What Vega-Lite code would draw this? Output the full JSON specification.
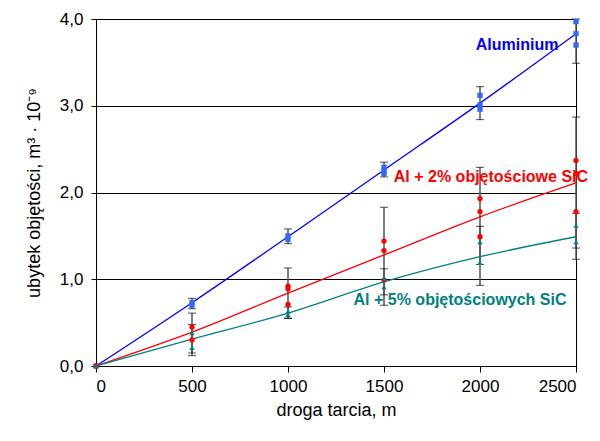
{
  "$schema": "https://vega.github.io/schema/vega-lite/v6.json",
  "width": 480,
  "height": 347,
  "autosize": "none",
  "padding": {"left": 96, "top": 19, "right": 24, "bottom": 75},
  "background": "white",
  "config": {
    "font": "Liberation Sans",
    "view": {"stroke": "black", "strokeWidth": 1}
  },
  "datasets": {
    "pts": [
      {"s": "Al", "x": 0, "y": 0}, {"s": "Al", "x": 500, "y": 0.73}, {"s": "Al", "x": 500, "y": 0.70},
      {"s": "Al", "x": 1000, "y": 1.50}, {"s": "Al", "x": 1000, "y": 1.46},
      {"s": "Al", "x": 1500, "y": 2.29}, {"s": "Al", "x": 1500, "y": 2.25}, {"s": "Al", "x": 1500, "y": 2.22},
      {"s": "Al", "x": 2000, "y": 3.12}, {"s": "Al", "x": 2000, "y": 3.01}, {"s": "Al", "x": 2000, "y": 2.96},
      {"s": "Al", "x": 2500, "y": 3.97}, {"s": "Al", "x": 2500, "y": 3.83}, {"s": "Al", "x": 2500, "y": 3.70},
      {"s": "Al2", "x": 0, "y": 0}, {"s": "Al2", "x": 500, "y": 0.45}, {"s": "Al2", "x": 500, "y": 0.30},
      {"s": "Al2", "x": 1000, "y": 0.92}, {"s": "Al2", "x": 1000, "y": 0.89}, {"s": "Al2", "x": 1000, "y": 0.71},
      {"s": "Al2", "x": 1500, "y": 1.44}, {"s": "Al2", "x": 1500, "y": 1.33}, {"s": "Al2", "x": 1500, "y": 0.99},
      {"s": "Al2", "x": 2000, "y": 1.93}, {"s": "Al2", "x": 2000, "y": 1.78}, {"s": "Al2", "x": 2000, "y": 1.49},
      {"s": "Al2", "x": 2500, "y": 2.37}, {"s": "Al2", "x": 2500, "y": 2.22}, {"s": "Al2", "x": 2500, "y": 1.78},
      {"s": "Al5", "x": 0, "y": 0}, {"s": "Al5", "x": 500, "y": 0.38}, {"s": "Al5", "x": 500, "y": 0.21},
      {"s": "Al5", "x": 1000, "y": 0.63}, {"s": "Al5", "x": 1000, "y": 0.59},
      {"s": "Al5", "x": 1500, "y": 1.01}, {"s": "Al5", "x": 1500, "y": 0.91},
      {"s": "Al5", "x": 2000, "y": 1.43}, {"s": "Al5", "x": 2000, "y": 1.19},
      {"s": "Al5", "x": 2500, "y": 1.62}, {"s": "Al5", "x": 2500, "y": 1.43}
    ],
    "fit": [
      {"s": "Al", "x": 0, "y": 0}, {"s": "Al", "x": 500, "y": 0.73}, {"s": "Al", "x": 1000, "y": 1.49},
      {"s": "Al", "x": 1500, "y": 2.26}, {"s": "Al", "x": 2000, "y": 3.03}, {"s": "Al", "x": 2500, "y": 3.83},
      {"s": "Al2", "x": 0, "y": 0}, {"s": "Al2", "x": 500, "y": 0.39}, {"s": "Al2", "x": 1000, "y": 0.84},
      {"s": "Al2", "x": 1500, "y": 1.28}, {"s": "Al2", "x": 2000, "y": 1.72}, {"s": "Al2", "x": 2500, "y": 2.11},
      {"s": "Al5", "x": 0, "y": 0}, {"s": "Al5", "x": 500, "y": 0.31}, {"s": "Al5", "x": 1000, "y": 0.61},
      {"s": "Al5", "x": 1500, "y": 0.97}, {"s": "Al5", "x": 2000, "y": 1.26}, {"s": "Al5", "x": 2500, "y": 1.49}
    ],
    "err": [
      {"s": "Al", "x": 500, "lo": 0.66, "hi": 0.78}, {"s": "Al", "x": 1000, "lo": 1.41, "hi": 1.58},
      {"s": "Al", "x": 1500, "lo": 2.18, "hi": 2.35}, {"s": "Al", "x": 2000, "lo": 2.84, "hi": 3.22},
      {"s": "Al", "x": 2500, "lo": 3.49, "hi": 4.0},
      {"s": "Al2", "x": 500, "lo": 0.15, "hi": 0.61}, {"s": "Al2", "x": 1000, "lo": 0.55, "hi": 1.13},
      {"s": "Al2", "x": 1500, "lo": 0.70, "hi": 1.83}, {"s": "Al2", "x": 2000, "lo": 1.17, "hi": 2.29},
      {"s": "Al2", "x": 2500, "lo": 1.36, "hi": 2.87},
      {"s": "Al5", "x": 500, "lo": 0.12, "hi": 0.48}, {"s": "Al5", "x": 1000, "lo": 0.55, "hi": 0.68},
      {"s": "Al5", "x": 1500, "lo": 0.82, "hi": 1.12}, {"s": "Al5", "x": 2000, "lo": 0.93, "hi": 1.61},
      {"s": "Al5", "x": 2500, "lo": 1.23, "hi": 1.76}
    ],
    "labels": [
      {"s": "Al", "x": 2193, "y": 3.70, "t": "Aluminium"},
      {"s": "Al2", "x": 2057, "y": 2.18, "t": "Al + 2% objętościowe SiC"},
      {"s": "Al5", "x": 1896, "y": 0.76, "t": "Al + 5% objętościowych SiC"}
    ]
  },
  "encoding": {
    "x": {"field": "x", "type": "quantitative", "scale": {"domain": [0, 2500], "nice": false},
      "axis": {"values": [0, 500, 1000, 1500, 2000, 2500], "format": "d", "grid": false, "tickSize": 6, "labelPadding": 6,
        "labelFont": "Liberation Sans", "labelFontSize": 17, "labelColor": "black", "domainColor": "black", "tickColor": "black",
        "title": "droga tarcia, m", "titleFont": "Liberation Sans", "titleFontSize": 18, "titleFontWeight": "normal", "titleColor": "black", "titlePadding": 7}},
    "y": {"field": "y", "type": "quantitative", "scale": {"domain": [0, 4], "nice": false},
      "axis": {"values": [0, 1, 2, 3, 4], "labelExpr": "replace(format(datum.value, '.1f'), '.', ',')", "grid": true, "gridColor": "black", "gridOpacity": 1, "gridWidth": 1, "tickSize": 5, "labelPadding": 8,
        "labelFont": "Liberation Sans", "labelFontSize": 17, "labelColor": "black", "domainColor": "black", "tickColor": "black",
        "title": "ubytek objętości, m³ · 10⁻⁹", "titleFont": "Liberation Sans", "titleFontSize": 18, "titleFontWeight": "normal", "titleColor": "black", "titlePadding": 16}}
  },
  "layer": [
    {
      "data": {"name": "err"},
      "mark": {"type": "rule", "color": "#555555", "strokeWidth": 1.5},
      "encoding": {"y": {"field": "lo", "type": "quantitative"}, "y2": {"field": "hi"}}
    },
    {
      "data": {"name": "err"},
      "mark": {"type": "tick", "orient": "horizontal", "color": "black", "size": 8, "thickness": 1},
      "encoding": {"y": {"field": "lo", "type": "quantitative"}}
    },
    {
      "data": {"name": "err"},
      "mark": {"type": "tick", "orient": "horizontal", "color": "black", "size": 8, "thickness": 1},
      "encoding": {"y": {"field": "hi", "type": "quantitative"}}
    },
    {
      "data": {"name": "fit"},
      "mark": {"type": "line", "strokeWidth": 1.3, "interpolate": "monotone"},
      "encoding": {"color": {"field": "s", "type": "nominal", "scale": {"domain": ["Al", "Al2", "Al5"], "range": ["#0000ff", "#ff0000", "#008080"]}, "legend": null}}
    },
    {
      "data": {"name": "pts"},
      "mark": {"type": "point", "filled": true, "opacity": 1},
      "encoding": {
        "color": {"field": "s", "type": "nominal", "scale": {"domain": ["Al", "Al2", "Al5"], "range": ["#3366ff", "#ff0000", "#008080"]}, "legend": null},
        "shape": {"field": "s", "type": "nominal", "scale": {"domain": ["Al", "Al2", "Al5"], "range": ["square", "circle", "triangle-up"]}, "legend": null},
        "size": {"value": 28}
      }
    },
    {
      "data": {"name": "labels"},
      "mark": {"type": "text", "fontSize": 16, "fontWeight": "bold", "align": "center", "baseline": "middle"},
      "encoding": {
        "text": {"field": "t"},
        "color": {"field": "s", "type": "nominal", "scale": {"domain": ["Al", "Al2", "Al5"], "range": ["#0000ff", "#ff0000", "#008080"]}, "legend": null}
      }
    }
  ],
  "resolve": {"scale": {"color": "independent"}}
}
